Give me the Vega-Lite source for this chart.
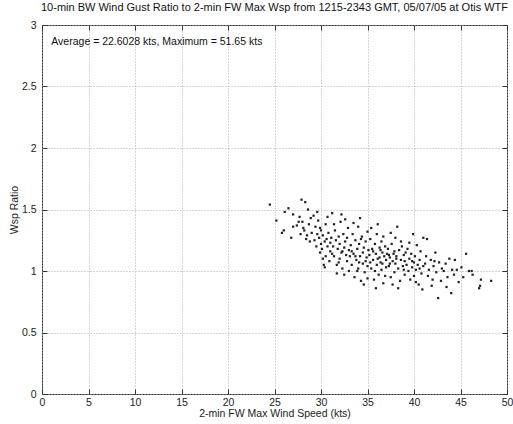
{
  "$schema": "https://vega.github.io/schema/vega-lite/v6.json",
  "autosize": {"type": "none"},
  "padding": {"left": 42, "top": 25, "right": 6, "bottom": 30},
  "width": 465,
  "height": 369,
  "title": {"text": "10-min BW Wind Gust Ratio to 2-min FW Max Wsp from 1215-2343 GMT, 05/07/05 at Otis WTF", "font": "Liberation Sans", "fontSize": 11, "fontWeight": "normal", "color": "#111", "offset": 7, "anchor": "middle"},
  "config": {
    "view": {"stroke": "#333", "strokeWidth": 1},
    "axis": {"labelFont": "Liberation Sans", "titleFont": "Liberation Sans", "labelFontSize": 10.5, "titleFontSize": 10.5, "titleFontWeight": "normal", "labelColor": "#222", "titleColor": "#222", "domain": false, "tickColor": "#333", "tickSize": -5, "gridColor": "#aaa", "gridDash": [1, 2], "gridWidth": 1}
  },
  "datasets": {
    "pts": [
      {"ws": 24.5, "r": 1.54}, {"ws": 25.2, "r": 1.41}, {"ws": 25.8, "r": 1.31}, {"ws": 26.0, "r": 1.33}, {"ws": 26.1, "r": 1.48}, {"ws": 26.5, "r": 1.51}, {"ws": 27.0, "r": 1.46}, {"ws": 27.0, "r": 1.36}, {"ws": 26.8, "r": 1.27},
      {"ws": 27.4, "r": 1.37}, {"ws": 27.6, "r": 1.40}, {"ws": 27.7, "r": 1.44}, {"ws": 27.9, "r": 1.58}, {"ws": 28.0, "r": 1.40}, {"ws": 28.3, "r": 1.56}, {"ws": 28.6, "r": 1.50}, {"ws": 28.2, "r": 1.33}, {"ws": 28.5, "r": 1.29}, {"ws": 28.7, "r": 1.38}, {"ws": 28.9, "r": 1.43}, {"ws": 28.8, "r": 1.24}, {"ws": 28.4, "r": 1.26}, {"ws": 29.0, "r": 1.31}, {"ws": 27.8, "r": 1.30}, {"ws": 28.1, "r": 1.35},
      {"ws": 29.2, "r": 1.45}, {"ws": 29.3, "r": 1.25}, {"ws": 29.4, "r": 1.36}, {"ws": 29.5, "r": 1.20}, {"ws": 29.6, "r": 1.30}, {"ws": 29.7, "r": 1.41}, {"ws": 29.8, "r": 1.27}, {"ws": 29.9, "r": 1.15}, {"ws": 30.0, "r": 1.33}, {"ws": 30.0, "r": 1.22}, {"ws": 30.1, "r": 1.18}, {"ws": 30.2, "r": 1.29}, {"ws": 30.3, "r": 1.05}, {"ws": 30.4, "r": 1.24}, {"ws": 30.5, "r": 1.38}, {"ws": 30.5, "r": 1.12}, {"ws": 30.6, "r": 1.26}, {"ws": 30.7, "r": 1.20}, {"ws": 30.8, "r": 1.31}, {"ws": 30.9, "r": 1.08}, {"ws": 31.0, "r": 1.23}, {"ws": 31.0, "r": 1.16}, {"ws": 30.2, "r": 1.10}, {"ws": 29.6, "r": 1.48}, {"ws": 30.7, "r": 1.44}, {"ws": 31.1, "r": 1.27}, {"ws": 29.9, "r": 1.35}, {"ws": 30.4, "r": 1.03},
      {"ws": 31.2, "r": 1.47}, {"ws": 31.3, "r": 1.20}, {"ws": 31.4, "r": 1.12}, {"ws": 31.5, "r": 1.33}, {"ws": 31.6, "r": 1.25}, {"ws": 31.7, "r": 1.05}, {"ws": 31.8, "r": 1.18}, {"ws": 31.9, "r": 1.28}, {"ws": 32.0, "r": 1.10}, {"ws": 32.0, "r": 1.22}, {"ws": 32.1, "r": 1.40}, {"ws": 32.2, "r": 1.15}, {"ws": 32.3, "r": 1.02}, {"ws": 32.4, "r": 1.30}, {"ws": 32.5, "r": 1.19}, {"ws": 32.5, "r": 0.97}, {"ws": 32.6, "r": 1.24}, {"ws": 32.7, "r": 1.13}, {"ws": 32.8, "r": 1.08}, {"ws": 32.9, "r": 1.35}, {"ws": 33.0, "r": 1.17}, {"ws": 33.0, "r": 1.00}, {"ws": 31.4, "r": 1.38}, {"ws": 32.2, "r": 1.46}, {"ws": 31.7, "r": 0.98}, {"ws": 32.8, "r": 1.27}, {"ws": 33.1, "r": 1.12}, {"ws": 31.9, "r": 1.07}, {"ws": 32.6, "r": 1.42}, {"ws": 31.2, "r": 1.14}, {"ws": 32.3, "r": 1.16},
      {"ws": 33.2, "r": 1.21}, {"ws": 33.3, "r": 1.05}, {"ws": 33.4, "r": 1.30}, {"ws": 33.5, "r": 1.14}, {"ws": 33.6, "r": 0.95}, {"ws": 33.7, "r": 1.25}, {"ws": 33.8, "r": 1.09}, {"ws": 33.9, "r": 1.18}, {"ws": 34.0, "r": 1.36}, {"ws": 34.0, "r": 1.02}, {"ws": 34.1, "r": 1.22}, {"ws": 34.2, "r": 1.12}, {"ws": 34.3, "r": 0.92}, {"ws": 34.4, "r": 1.28}, {"ws": 34.5, "r": 1.15}, {"ws": 34.5, "r": 1.06}, {"ws": 34.6, "r": 1.19}, {"ws": 34.7, "r": 0.99}, {"ws": 34.8, "r": 1.24}, {"ws": 34.9, "r": 1.11}, {"ws": 35.0, "r": 1.04}, {"ws": 35.0, "r": 1.32}, {"ws": 33.5, "r": 1.39}, {"ws": 34.2, "r": 1.43}, {"ws": 33.9, "r": 1.00}, {"ws": 34.6, "r": 0.89}, {"ws": 33.3, "r": 1.16}, {"ws": 34.8, "r": 1.08}, {"ws": 35.1, "r": 1.17}, {"ws": 33.7, "r": 1.12}, {"ws": 34.3, "r": 1.26}, {"ws": 35.0, "r": 0.94}, {"ws": 34.1, "r": 1.07},
      {"ws": 35.2, "r": 1.13}, {"ws": 35.3, "r": 1.26}, {"ws": 35.4, "r": 1.02}, {"ws": 35.5, "r": 1.18}, {"ws": 35.6, "r": 1.09}, {"ws": 35.7, "r": 0.93}, {"ws": 35.8, "r": 1.22}, {"ws": 35.9, "r": 1.14}, {"ws": 36.0, "r": 1.05}, {"ws": 36.0, "r": 1.30}, {"ws": 36.1, "r": 1.10}, {"ws": 36.2, "r": 0.97}, {"ws": 36.3, "r": 1.19}, {"ws": 36.4, "r": 1.07}, {"ws": 36.5, "r": 1.24}, {"ws": 36.5, "r": 1.01}, {"ws": 36.6, "r": 1.15}, {"ws": 36.7, "r": 0.90}, {"ws": 36.8, "r": 1.12}, {"ws": 36.9, "r": 1.20}, {"ws": 37.0, "r": 1.03}, {"ws": 37.0, "r": 1.09}, {"ws": 35.4, "r": 1.35}, {"ws": 36.1, "r": 1.38}, {"ws": 35.9, "r": 0.86}, {"ws": 36.7, "r": 1.28}, {"ws": 35.6, "r": 1.16}, {"ws": 36.3, "r": 1.11}, {"ws": 36.9, "r": 0.96}, {"ws": 35.3, "r": 1.07}, {"ws": 36.4, "r": 1.17}, {"ws": 37.1, "r": 1.14}, {"ws": 35.8, "r": 1.00}, {"ws": 36.6, "r": 1.06},
      {"ws": 37.2, "r": 1.18}, {"ws": 37.3, "r": 1.04}, {"ws": 37.4, "r": 1.11}, {"ws": 37.5, "r": 0.95}, {"ws": 37.6, "r": 1.22}, {"ws": 37.7, "r": 1.08}, {"ws": 37.8, "r": 1.14}, {"ws": 37.9, "r": 0.99}, {"ws": 38.0, "r": 1.27}, {"ws": 38.0, "r": 1.06}, {"ws": 38.1, "r": 1.12}, {"ws": 38.2, "r": 1.36}, {"ws": 38.3, "r": 1.02}, {"ws": 38.4, "r": 1.17}, {"ws": 38.5, "r": 0.92}, {"ws": 38.6, "r": 1.09}, {"ws": 38.7, "r": 1.20}, {"ws": 38.8, "r": 1.04}, {"ws": 38.9, "r": 1.13}, {"ws": 39.0, "r": 0.97}, {"ws": 39.0, "r": 1.08}, {"ws": 37.5, "r": 1.31}, {"ws": 38.3, "r": 0.86}, {"ws": 37.9, "r": 1.16}, {"ws": 38.6, "r": 1.24}, {"ws": 37.3, "r": 1.13}, {"ws": 38.9, "r": 1.01}, {"ws": 37.7, "r": 0.89}, {"ws": 38.1, "r": 1.10}, {"ws": 39.1, "r": 1.15}, {"ws": 37.4, "r": 1.06},
      {"ws": 39.2, "r": 1.05}, {"ws": 39.3, "r": 1.18}, {"ws": 39.4, "r": 1.00}, {"ws": 39.5, "r": 1.10}, {"ws": 39.6, "r": 0.93}, {"ws": 39.7, "r": 1.14}, {"ws": 39.8, "r": 1.03}, {"ws": 39.9, "r": 1.30}, {"ws": 40.0, "r": 1.07}, {"ws": 40.0, "r": 0.96}, {"ws": 40.1, "r": 1.12}, {"ws": 40.2, "r": 1.01}, {"ws": 40.3, "r": 1.21}, {"ws": 40.4, "r": 1.05}, {"ws": 40.5, "r": 0.89}, {"ws": 40.6, "r": 1.09}, {"ws": 40.7, "r": 1.16}, {"ws": 40.8, "r": 0.98}, {"ws": 40.9, "r": 0.85}, {"ws": 41.0, "r": 1.27}, {"ws": 41.0, "r": 1.04}, {"ws": 39.5, "r": 1.23}, {"ws": 40.2, "r": 0.91}, {"ws": 39.8, "r": 1.08}, {"ws": 40.6, "r": 1.02},
      {"ws": 41.2, "r": 1.06}, {"ws": 41.3, "r": 1.12}, {"ws": 41.5, "r": 0.96}, {"ws": 41.6, "r": 1.01}, {"ws": 41.8, "r": 1.09}, {"ws": 42.0, "r": 0.93}, {"ws": 42.1, "r": 1.04}, {"ws": 42.3, "r": 1.15}, {"ws": 42.4, "r": 0.99}, {"ws": 42.6, "r": 0.78}, {"ws": 42.7, "r": 1.07}, {"ws": 42.9, "r": 0.92}, {"ws": 43.0, "r": 1.02}, {"ws": 41.4, "r": 1.26}, {"ws": 42.2, "r": 1.08}, {"ws": 41.9, "r": 0.88},
      {"ws": 43.2, "r": 1.00}, {"ws": 43.4, "r": 1.06}, {"ws": 43.6, "r": 0.95}, {"ws": 43.8, "r": 1.10}, {"ws": 44.0, "r": 0.82}, {"ws": 44.1, "r": 1.01}, {"ws": 44.4, "r": 1.09}, {"ws": 44.6, "r": 1.01}, {"ws": 44.8, "r": 0.91}, {"ws": 43.5, "r": 0.87}, {"ws": 44.3, "r": 0.97},
      {"ws": 45.1, "r": 1.03}, {"ws": 45.3, "r": 0.95}, {"ws": 45.6, "r": 1.14}, {"ws": 45.9, "r": 1.00}, {"ws": 46.2, "r": 1.00}, {"ws": 46.3, "r": 0.97}, {"ws": 47.0, "r": 0.86}, {"ws": 47.2, "r": 0.93}, {"ws": 47.1, "r": 0.88}, {"ws": 48.3, "r": 0.92}
    ],
    "note": [{"ws": 1.0, "r": 2.86, "label": "Average = 22.6028 kts, Maximum = 51.65 kts"}]
  },
  "layer": [
    {
      "data": {"name": "pts"},
      "mark": {"type": "square", "size": 5, "color": "#222", "opacity": 1},
      "encoding": {
        "x": {"field": "ws", "type": "quantitative", "scale": {"domain": [0, 50], "nice": false}, "axis": {"title": "2-min FW Max Wind Speed (kts)", "values": [0, 5, 10, 15, 20, 25, 30, 35, 40, 45, 50], "labelPadding": 8, "titlePadding": 1, "labelFlush": false}},
        "y": {"field": "r", "type": "quantitative", "scale": {"domain": [0, 3], "nice": false}, "axis": {"title": "Wsp Ratio", "values": [0, 0.5, 1, 1.5, 2, 2.5, 3], "format": "~g", "labelPadding": 11, "titlePadding": 2, "labelFlush": false}}
      }
    },
    {
      "data": {"name": "pts"},
      "mark": {"type": "point", "opacity": 0},
      "encoding": {
        "x": {"field": "ws", "type": "quantitative", "scale": {"domain": [0, 50], "nice": false}, "axis": {"orient": "top", "labels": false, "title": null, "grid": false, "values": [0, 5, 10, 15, 20, 25, 30, 35, 40, 45, 50]}},
        "y": {"field": "r", "type": "quantitative", "scale": {"domain": [0, 3], "nice": false}, "axis": {"orient": "right", "labels": false, "title": null, "grid": false, "values": [0, 0.5, 1, 1.5, 2, 2.5, 3]}}
      }
    },
    {
      "data": {"name": "note"},
      "mark": {"type": "text", "align": "left", "baseline": "middle", "font": "Liberation Sans", "fontSize": 10.5, "color": "#111"},
      "encoding": {
        "x": {"field": "ws", "type": "quantitative", "axis": null},
        "y": {"field": "r", "type": "quantitative", "axis": null},
        "text": {"field": "label"}
      }
    }
  ],
  "resolve": {"axis": {"x": "independent", "y": "independent"}}
}
